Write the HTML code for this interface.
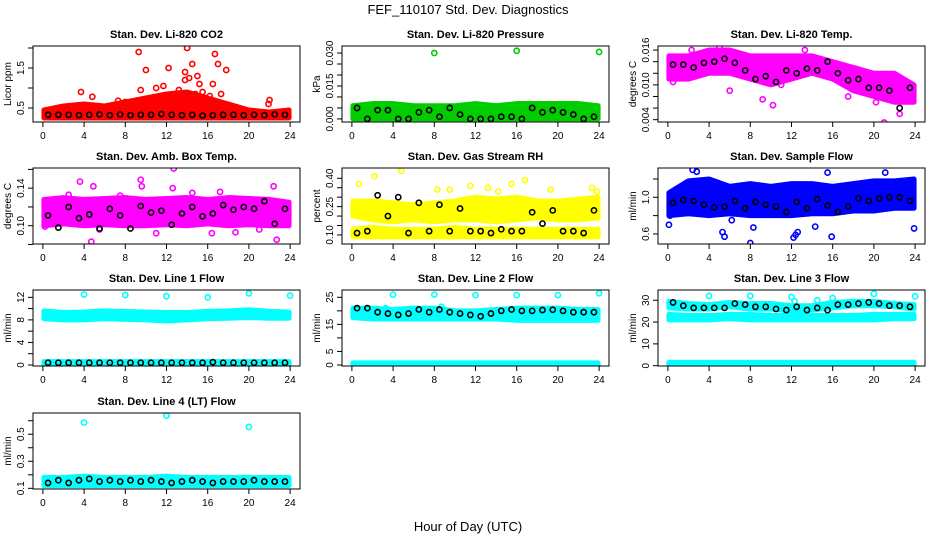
<!DOCTYPE html>
<html><head><meta charset="utf-8">
<style>
html,body{margin:0;padding:0;background:#fff;}
svg{display:block;font-family:"Liberation Sans",Arial,sans-serif;}
</style></head>
<body>
<svg id="chart" width="936" height="540" viewBox="0 0 936 540" xmlns="http://www.w3.org/2000/svg">
<text x="468" y="14" text-anchor="middle" font-size="13">FEF_110107  Std. Dev. Diagnostics</text>
<text x="468" y="531" text-anchor="middle" font-size="13">Hour of Day (UTC)</text>
</svg>
<script>
// ---------- shared data ----------
const xTicks = [0,4,8,12,16,20,24];
const bandHours = [0,2,4,6,8,10,12,14,16,18,20,22,24];
const blackHours = [0.5,1.5,2.5,3.5,4.5,5.5,6.5,7.5,8.5,9.5,10.5,11.5,12.5,13.5,14.5,15.5,16.5,17.5,18.5,19.5,20.5,21.5,22.5,23.5];

// CO2
const co2BandLo = [0.25,0.25,0.25,0.25,0.25,0.25,0.25,0.25,0.25,0.25,0.25,0.25,0.25];
const co2BandHi = [0.45,0.55,0.6,0.55,0.65,0.75,0.85,0.9,0.75,0.6,0.45,0.4,0.45];
const co2OutX = [9.3,10,11,11.7,12.2,13.8,14,14.5,14.2,15,15.2,16.5,16.7,17,17.8,9.5,3.7,4.8,13.2,13.8,15.5,22,21.9,7.3,8,12.5,14.8,16.2,17.3];
const co2OutY = [1.9,1.45,1.0,1.05,1.5,1.4,2.0,1.6,1.25,1.3,1.1,1.1,1.85,1.6,1.45,0.95,0.9,0.78,0.95,1.2,0.9,0.7,0.6,0.68,0.65,0.72,0.85,0.8,0.85];
const co2Black = [0.33,0.33,0.33,0.32,0.33,0.34,0.32,0.34,0.32,0.33,0.33,0.35,0.33,0.32,0.33,0.31,0.32,0.33,0.33,0.32,0.33,0.32,0.34,0.33];

// Pressure
const presBandLo = [0,0,0,0,0,0,0,0,0,0,0,0,0];
const presBandHi = [0.006,0.007,0.007,0.006,0.006,0.006,0.007,0.006,0.007,0.007,0.007,0.007,0.006];
const presOutX = [8,16,24];
const presOutY = [0.030,0.031,0.0305];
const presBlack = [0.005,0.000,0.004,0.004,0.000,0.000,0.003,0.004,0.001,0.005,0.002,0.000,0.000,0.000,0.001,0.001,0.000,0.005,0.003,0.004,0.003,0.002,0.000,0.001];

// Li-820 temperature
const tempBandLo = [0.011,0.011,0.012,0.012,0.011,0.010,0.011,0.012,0.011,0.009,0.008,0.007,0.007];
const tempBandHi = [0.015,0.015,0.016,0.016,0.015,0.015,0.015,0.015,0.014,0.013,0.012,0.012,0.010];
const tempOutX = [5,0.5,9.2,10.2,21,22.5,6,2.3,13.3,11,17.5,20.2];
const tempOutY = [0.0165,0.0105,0.0075,0.0065,0.0035,0.005,0.009,0.016,0.016,0.010,0.008,0.007];
const tempBlack = [0.0135,0.0135,0.013,0.0138,0.014,0.0145,0.0138,0.0125,0.011,0.0115,0.0105,0.0125,0.012,0.0128,0.0125,0.014,0.012,0.0108,0.011,0.0095,0.0095,0.009,0.006,0.0095];

// Ambient box temp
const boxBandLo = [0.100,0.102,0.100,0.101,0.100,0.100,0.101,0.100,0.102,0.100,0.101,0.100,0.100];
const boxBandHi = [0.128,0.130,0.128,0.129,0.130,0.128,0.129,0.130,0.128,0.130,0.129,0.128,0.125];
const boxOutX = [3.6,4.7,9.5,9.6,12.7,12.6,4.9,11,22.7,22.4,2.5,7.5,17.2,16.4,18.7,0.2,5.5,21,14.5];
const boxOutY = [0.147,0.083,0.149,0.142,0.161,0.140,0.142,0.092,0.085,0.142,0.133,0.132,0.136,0.092,0.093,0.099,0.096,0.096,0.135];
const boxBlack = [0.111,0.098,0.120,0.108,0.112,0.097,0.118,0.111,0.097,0.121,0.114,0.116,0.101,0.113,0.120,0.110,0.113,0.122,0.117,0.120,0.118,0.126,0.102,0.118];

// Gas stream RH
const rhBandLo = [0.09,0.09,0.09,0.09,0.09,0.09,0.09,0.09,0.09,0.09,0.09,0.09,0.09];
const rhBandHi = [0.13,0.14,0.13,0.13,0.13,0.14,0.13,0.13,0.13,0.13,0.13,0.13,0.13];
const rhCloudLo = [0.20,0.18,0.17,0.18,0.17,0.18,0.18,0.17,0.18,0.19,0.18,0.18,0.19];
const rhCloudHi = [0.28,0.28,0.27,0.26,0.27,0.28,0.30,0.29,0.30,0.28,0.28,0.29,0.30];
const rhOutX = [0.7,2.2,4.8,8.3,9.5,13.2,15.5,16.8,11.5,19.3,23.3,23.8,14.2];
const rhOutY = [0.37,0.41,0.44,0.34,0.34,0.35,0.37,0.39,0.36,0.34,0.35,0.33,0.33];
const rhBlack = [0.11,0.12,0.31,0.20,0.30,0.11,0.27,0.12,0.26,0.12,0.24,0.12,0.12,0.11,0.13,0.12,0.12,0.22,0.16,0.23,0.12,0.12,0.11,0.23];

// Sample flow
const flowBandLo = [0.80,0.82,0.80,0.82,0.80,0.80,0.80,0.82,0.82,0.85,0.85,0.88,0.88];
const flowBandHi = [1.05,1.18,1.20,1.12,1.15,1.12,1.15,1.15,1.12,1.15,1.18,1.18,1.20];
const flowOutX = [0.1,0.2,2.4,2.8,5.3,5.5,8,8.3,12.2,12.4,12.6,14.3,15.9,21.1,23.9,15.5,6.2];
const flowOutY = [0.70,0.80,1.30,1.28,0.62,0.57,0.50,0.67,0.56,0.59,0.62,0.68,0.57,1.27,0.66,1.27,0.75];
const flowBlack = [0.94,0.97,0.96,0.92,0.89,0.90,0.96,0.88,0.95,0.92,0.90,0.84,0.95,0.88,0.98,0.91,0.84,0.90,0.99,0.96,0.99,1.00,1.00,0.96];

// Line 1 flow
const l1BandLo = [8.2,8.0,8.0,8.2,8.1,8.0,7.8,8.0,8.2,8.3,8.4,8.3,8.3];
const l1BandHi = [9.6,9.3,9.4,9.6,9.5,9.4,9.3,9.3,9.5,9.6,9.8,9.5,9.4];
const l1LowLo = [0,0,0,0,0,0,0,0,0,0,0,0,0];
const l1LowHi = [0.6,0.6,0.6,0.6,0.6,0.6,0.6,0.6,0.6,0.6,0.6,0.6,0.6];
const l1OutX = [4,8,12,16,20,24];
const l1OutY = [12.5,12.4,12.2,12.0,12.7,12.3];
const l1Black = [0.4,0.4,0.4,0.4,0.4,0.4,0.4,0.4,0.4,0.4,0.4,0.4,0.4,0.4,0.4,0.4,0.5,0.4,0.4,0.4,0.4,0.4,0.4,0.4];

// Line 2 flow
const l2BandLo = [17.5,17.0,17.0,17.0,17.0,17.0,17.0,17.0,16.5,16.5,16.5,16.5,16.5];
const l2BandHi = [21.0,21.0,20.5,21.0,21.0,20.0,20.0,20.5,21.0,21.0,21.0,20.5,20.5];
const l2LowLo = [0,0,0,0,0,0,0,0,0,0,0,0,0];
const l2LowHi = [0.8,0.8,0.8,0.8,0.8,0.8,0.8,0.8,0.8,0.8,0.8,0.8,0.8];
const l2OutX = [4,8,12,16,20,24,3.3,8.7];
const l2OutY = [26,26,25.8,25.8,25.8,26.5,21,21.5];
const l2Black = [21,21,19.5,19,18.5,19,20.5,19.5,20.5,19.5,19,18.5,18,19,20,20.5,20,20,20.3,20.4,20,19.5,19.5,19.5];

// Line 3 flow
const l3BandLo = [21.0,21.0,21.0,21.5,21.0,21.0,21.0,21.0,21.0,21.0,21.0,21.5,21.5];
const l3BandHi = [23.5,23.0,23.0,23.5,23.5,23.0,23.0,23.0,23.0,23.0,23.5,23.5,23.5];
const l3TopLo = [26.5,26.0,26.0,27.0,26.0,26.0,25.0,25.5,26.5,27.5,27.5,27.0,26.0];
const l3TopHi = [29.5,28.5,28.0,29.0,28.5,28.5,27.5,27.5,29.0,29.5,29.5,28.5,28.0];
const l3LowLo = [0,0,0,0,0,0,0,0,0,0,0,0,0];
const l3LowHi = [1.5,1.5,1.5,1.5,1.5,1.5,1.5,1.5,1.5,1.5,1.5,1.5,1.5];
const l3OutX = [4,8,12,16,20,24,12.3,14.5];
const l3OutY = [32,32,31.5,31,33,31.8,29.5,30];
const l3Black = [29,27.5,26.5,26.5,26.5,26.5,28.5,28,27,27,26,25.5,27,25.5,26.5,25.5,28,28,28.5,29,28.5,27.5,27.5,27];

// Line 4 (LT) flow
const l4BandLo = [0.12,0.12,0.12,0.12,0.12,0.12,0.12,0.12,0.12,0.12,0.12,0.12,0.12];
const l4BandHi = [0.18,0.18,0.19,0.18,0.18,0.18,0.19,0.18,0.18,0.18,0.18,0.18,0.18];
const l4OutX = [4,12,20];
const l4OutY = [0.586,0.637,0.554];
const l4Black = [0.14,0.16,0.14,0.16,0.17,0.15,0.16,0.15,0.16,0.15,0.16,0.15,0.14,0.15,0.16,0.15,0.14,0.15,0.15,0.15,0.16,0.15,0.15,0.15];

// ---------- layout (not data) ----------
const colX = [33,342,658];
const rowY = [46,168,290,413];
const BW = 267, BH = 76;
const XMIN = -0.96, XMAX = 24.96;

const panels = [
 {name:'co2',title:'Stan. Dev. Li-820 CO2',ylab:'Licor ppm',c:0,r:0,y0:0.15,y1:2.05,ticks:[0.5,1,1.5,2],labels:['0.5','','1.5',''],color:'#ff0000',
  bands:[[co2BandLo,co2BandHi]],ox:co2OutX,oy:co2OutY,black:co2Black},
 {name:'pressure',title:'Stan. Dev. Li-820 Pressure',ylab:'kPa',c:1,r:0,y0:-0.0014,y1:0.0332,ticks:[0,0.005,0.01,0.015,0.02,0.025,0.03],labels:['0.000','','','0.015','','','0.030'],color:'#00cc00',
  bands:[[presBandLo,presBandHi]],ox:presOutX,oy:presOutY,black:presBlack},
 {name:'li820-temp',title:'Stan. Dev. Li-820 Temp.',ylab:'degrees C',c:2,r:0,y0:0.0036,y1:0.0167,ticks:[0.004,0.006,0.008,0.010,0.012,0.014,0.016],labels:['0.004','','','0.010','','','0.016'],color:'#ff00ff',
  bands:[[tempBandLo,tempBandHi]],ox:tempOutX,oy:tempOutY,black:tempBlack},
 {name:'box-temp',title:'Stan. Dev. Amb. Box Temp.',ylab:'degrees C',c:0,r:1,y0:0.0805,y1:0.1615,ticks:[0.08,0.10,0.12,0.14,0.16],labels:['','0.10','','0.14',''],color:'#ff00ff',
  bands:[[boxBandLo,boxBandHi]],ox:boxOutX,oy:boxOutY,black:boxBlack},
 {name:'gas-rh',title:'Stan. Dev. Gas Stream RH',ylab:'percent',c:1,r:1,y0:0.052,y1:0.4545,ticks:[0.1,0.15,0.2,0.25,0.3,0.35,0.4],labels:['0.10','','','0.25','','','0.40'],color:'#ffff00',
  bands:[[rhBandLo,rhBandHi],[rhCloudLo,rhCloudHi]],ox:rhOutX,oy:rhOutY,black:rhBlack},
 {name:'sample-flow',title:'Stan. Dev. Sample Flow',ylab:'ml/min',c:2,r:1,y0:0.49,y1:1.32,ticks:[0.6,0.8,1.0,1.2],labels:['0.6','','1.0',''],color:'#0000ff',
  bands:[[flowBandLo,flowBandHi]],ox:flowOutX,oy:flowOutY,black:flowBlack},
 {name:'line1-flow',title:'Stan. Dev. Line 1 Flow',ylab:'ml/min',c:0,r:2,y0:-0.18,y1:13.3,ticks:[0,2,4,6,8,10,12],labels:['0','','4','','8','','12'],color:'#00ffff',
  bands:[[l1BandLo,l1BandHi],[l1LowLo,l1LowHi]],ox:l1OutX,oy:l1OutY,black:l1Black},
 {name:'line2-flow',title:'Stan. Dev. Line 2 Flow',ylab:'ml/min',c:1,r:2,y0:-0.37,y1:27.7,ticks:[0,5,10,15,20,25],labels:['0','5','','15','','25'],color:'#00ffff',
  bands:[[l2BandLo,l2BandHi],[l2LowLo,l2LowHi]],ox:l2OutX,oy:l2OutY,black:l2Black},
 {name:'line3-flow',title:'Stan. Dev. Line 3 Flow',ylab:'ml/min',c:2,r:2,y0:-0.14,y1:34.7,ticks:[0,10,20,30],labels:['0','10','20','30'],color:'#00ffff',
  bands:[[l3BandLo,l3BandHi],[l3TopLo,l3TopHi],[l3LowLo,l3LowHi]],ox:l3OutX,oy:l3OutY,black:l3Black},
 {name:'line4-flow',title:'Stan. Dev. Line 4 (LT) Flow',ylab:'ml/min',c:0,r:3,y0:0.095,y1:0.657,ticks:[0.1,0.2,0.3,0.4,0.5,0.6],labels:['0.1','','0.3','','0.5',''],color:'#00ffff',
  bands:[[l4BandLo,l4BandHi]],ox:l4OutX,oy:l4OutY,black:l4Black}
];

const NS='http://www.w3.org/2000/svg';
const svg=document.getElementById('chart');
function mk(tag,parent){const e=document.createElementNS(NS,tag);parent.appendChild(e);return e;}

panels.forEach(p=>{
  const L=colX[p.c], T=rowY[p.r];
  const xs=h=>L+(h-XMIN)/(XMAX-XMIN)*BW;
  const ys=v=>T+BH-(v-p.y0)/(p.y1-p.y0)*BH;
  const g=mk('g',svg);
  
  

  const t=mk('text',g);
  
  
  t.setAttribute('x',L+BW/2);t.setAttribute('y',T-8);t.setAttribute('text-anchor','middle');
  t.setAttribute('font-size','11');t.setAttribute('font-weight','bold');t.textContent=p.title;

  const clip=mk('clipPath',g);clip.setAttribute('id','clip-'+p.name);
  const cr=mk('rect',clip);cr.setAttribute('x',L);cr.setAttribute('y',T);cr.setAttribute('width',BW);cr.setAttribute('height',BH);
  const marks=mk('g',g);marks.setAttribute('clip-path','url(#clip-'+p.name+')');
  
  

  p.bands.forEach(([lo,hi])=>{
    let pts=[];
    for(let i=0;i<bandHours.length;i++){const h=Math.min(Math.max(bandHours[i],0.1),23.9);pts.push(xs(h)+','+ys(hi[i]));}
    for(let i=bandHours.length-1;i>=0;i--){const h=Math.min(Math.max(bandHours[i],0.1),23.9);pts.push(xs(h)+','+ys(lo[i]));}
    const pg=mk('polygon',marks);
    
    
    pg.setAttribute('points',pts.join(' '));
    pg.setAttribute('fill',p.color);pg.setAttribute('stroke',p.color);
    pg.setAttribute('stroke-width','5');pg.setAttribute('stroke-linejoin','round');
  });
  p.ox.forEach((h,i)=>{
    const c=mk('circle',marks);
    
    
    c.setAttribute('cx',xs(h));c.setAttribute('cy',ys(p.oy[i]));c.setAttribute('r','2.6');
    c.setAttribute('fill','none');c.setAttribute('stroke',p.color);c.setAttribute('stroke-width','1.6');
  });
  blackHours.forEach((h,i)=>{
    const c=mk('circle',marks);
    
    
    c.setAttribute('cx',xs(h));c.setAttribute('cy',ys(p.black[i]));c.setAttribute('r','2.6');
    c.setAttribute('fill','none');c.setAttribute('stroke','#000');c.setAttribute('stroke-width','1.6');
  });

  const box=mk('rect',g);
  
  
  box.setAttribute('x',L);box.setAttribute('y',T);box.setAttribute('width',BW);box.setAttribute('height',BH);
  box.setAttribute('fill','none');box.setAttribute('stroke','#000');box.setAttribute('stroke-width','1');

  const xa=mk('g',g);
  
  
  xTicks.forEach(v=>{
    const X=xs(v);
    const ln=mk('line',xa);ln.setAttribute('x1',X);ln.setAttribute('x2',X);ln.setAttribute('y1',T+BH);ln.setAttribute('y2',T+BH+5);ln.setAttribute('stroke','#000');
    const tx=mk('text',xa);tx.setAttribute('x',X);tx.setAttribute('y',T+BH+17);tx.setAttribute('text-anchor','middle');tx.setAttribute('font-size','10');tx.textContent=v;
  });
  const ya=mk('g',g);
  
  
  p.ticks.forEach((v,i)=>{
    const Y=ys(v);
    const ln=mk('line',ya);ln.setAttribute('x1',L-5);ln.setAttribute('x2',L);ln.setAttribute('y1',Y);ln.setAttribute('y2',Y);ln.setAttribute('stroke','#000');
    if(p.labels[i]){
      const tx=mk('text',ya);tx.setAttribute('transform','translate('+(L-9)+','+Y+') rotate(-90)');
      tx.setAttribute('text-anchor','middle');tx.setAttribute('font-size','10');tx.textContent=p.labels[i];
    }
  });
  const yl=mk('text',g);
  
  
  yl.setAttribute('transform','translate('+(L-22)+','+(T+BH/2)+') rotate(-90)');
  yl.setAttribute('text-anchor','middle');yl.setAttribute('font-size','10');yl.textContent=p.ylab;
});
</script>
</body></html>
